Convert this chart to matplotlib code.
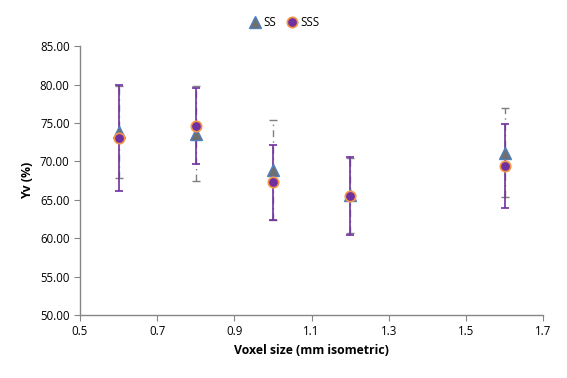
import matplotlib
matplotlib.use("Agg")
import matplotlib.pyplot as plt
from matplotlib.ticker import FormatStrFormatter

plt.rcParams["font.family"] = ["Open Sans", "DejaVu Sans"]

voxel = [0.6, 0.8, 1.0, 1.2, 1.6]
ss = [73.8, 73.6, 68.9, 65.6, 71.15]
ss_err = [6.0, 6.2, 6.5, 4.9, 5.75]
sss = [73.0, 74.6, 67.3, 65.5, 69.4]
sss_err = [6.9, 5.0, 4.9, 5.1, 5.45]

fig = plt.figure(figsize=(5.67, 3.78), dpi=100)
ax = fig.add_axes([0.141, 0.1667, 0.817, 0.711])

# error bars first, SS grey dash-dot, SSS purple solid
eb = ax.errorbar(voxel, ss, yerr=ss_err, fmt="none", ecolor="#7f7f7f",
                 elinewidth=1, capsize=3, capthick=1, zorder=2)
eb[2][0].set_linestyle((0, (5, 3, 1, 3)))
ax.errorbar(voxel, sss, yerr=sss_err, fmt="none", ecolor="#7030A0",
            elinewidth=1.2, capsize=3, capthick=1.2, zorder=3)

ax.plot(voxel, ss, linestyle="none", marker="^", markersize=8,
        markerfacecolor="#6f6f6f", markeredgecolor="#4F81BD",
        markeredgewidth=1, label="SS", zorder=4)
ax.plot(voxel, sss, linestyle="none", marker="o", markersize=7.5,
        markerfacecolor="#7030A0", markeredgecolor="#F79646",
        markeredgewidth=1.2, label="SSS", zorder=5)

ax.set_xlim(0.5, 1.7)
ax.set_ylim(50, 85)
ax.set_xticks([0.5, 0.7, 0.9, 1.1, 1.3, 1.5, 1.7])
ax.set_yticks([50, 55, 60, 65, 70, 75, 80, 85])
ax.yaxis.set_major_formatter(FormatStrFormatter("%.2f"))
ax.xaxis.set_major_formatter(FormatStrFormatter("%.1f"))

for s in ["top", "right"]:
    ax.spines[s].set_visible(False)
for s in ["left", "bottom"]:
    ax.spines[s].set_color("#868686")
    ax.spines[s].set_linewidth(1)
ax.tick_params(axis="both", colors="#868686", labelcolor="black",
               labelsize=8.3, length=4, direction="out")

ax.set_xlabel("Voxel size (mm isometric)", fontsize=8.8, fontweight="bold")
ax.set_ylabel("Yv (%)", fontsize=8.8, fontweight="bold")

fig.legend(loc="upper center", bbox_to_anchor=(0.5, 0.985), ncol=2,
           frameon=False, fontsize=8.3, handletextpad=0.1,
           columnspacing=0.8, handlelength=1.2)

fig.savefig("out.png", dpi=100)
